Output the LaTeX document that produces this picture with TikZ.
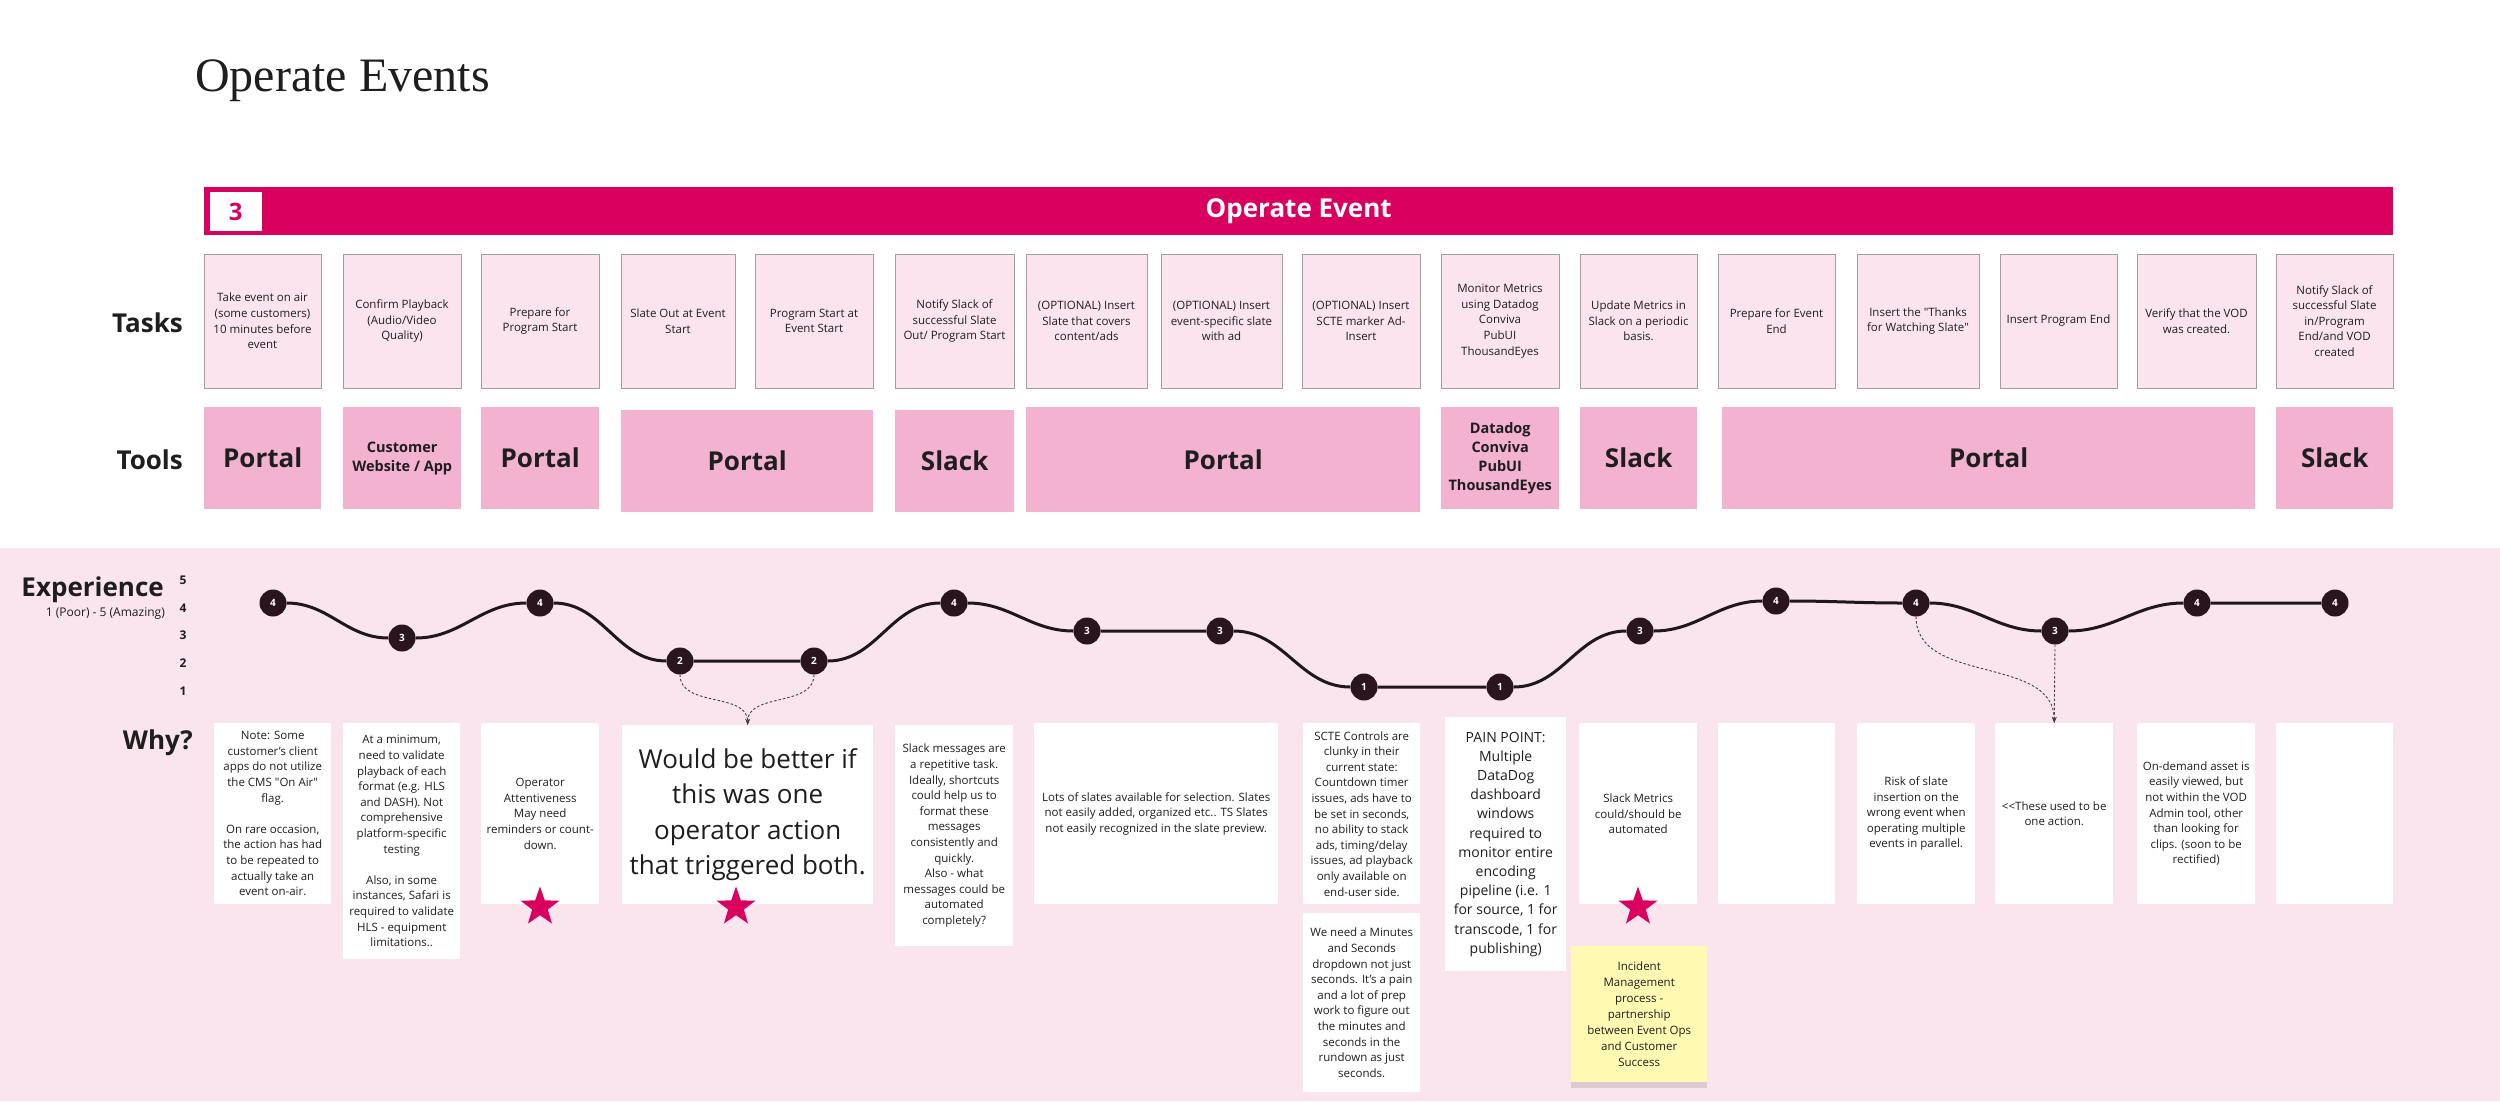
\documentclass[tikz,border=0pt]{standalone}
\usepackage{fontspec}
\setmainfont{Open Sans}
\newfontfamily\titlefont{Liberation Serif}
\usetikzlibrary{arrows.meta, positioning, shapes.geometric, shadows}

\definecolor{barpink}{RGB}{218,0,96}
\definecolor{taskfill}{RGB}{251,228,238}
\definecolor{taskline}{RGB}{170,155,163}
\definecolor{toolfill}{RGB}{242,178,208}
\definecolor{bgpink}{RGB}{250,228,238}
\definecolor{dotfill}{RGB}{42,20,30}
\definecolor{curveline}{RGB}{30,24,28}
\definecolor{notefill}{RGB}{255,249,178}
\definecolor{hintline}{RGB}{70,60,66}
\definecolor{inkgray}{RGB}{30,30,30}

\begin{document}
\begin{tikzpicture}[
  x=1pt, y=-1pt,
  task/.style={draw=taskline, fill=taskfill, line width=0.8pt, minimum height=134pt,
    inner sep=1pt, outer sep=0pt, align=center, text=inkgray, font=\fontsize{11.5}{15.6}\selectfont},
  tool/.style={fill=toolfill, anchor=north west, inner sep=0pt, align=center, text=inkgray,
    minimum height=102pt, font=\bfseries\fontsize{26}{30}\selectfont},
  toolsmall/.style={tool, font=\bfseries\fontsize{14.5}{19.3}\selectfont},
  why/.style={fill=white, anchor=north west, inner sep=0pt, align=center, text=inkgray,
    font=\fontsize{11.5}{15.6}\selectfont},
  sticky/.style={why, fill=notefill, drop shadow={shadow xshift=0pt, shadow yshift=-6pt, opacity=0.25}},
  rowlabel/.style={anchor=base east, inner sep=0pt, text=inkgray, font=\bfseries\fontsize{26}{30}\selectfont},
  level/.style={inner sep=0pt, text=inkgray, font=\bfseries\fontsize{12}{12}\selectfont},
  rate/.style={circle, fill=dotfill, text=white, minimum size=27pt, inner sep=0pt,
    font=\bfseries\fontsize{10}{10}\selectfont},
  journey/.style={draw=curveline, line width=3pt, out=0, in=180},
  hint/.style={draw=hintline, line width=0.9pt, dash pattern=on 2.5pt off 2pt,
    -{Stealth[length=6pt, width=4.5pt]}},
  hilite/.style={star, star points=5, star point ratio=2.5, fill=barpink, minimum size=41pt, inner sep=0pt}
]
\useasboundingbox (0,0) rectangle (2500,1101);
\fill[white] (0,0) rectangle (2500,1101);
\fill[bgpink] (0,548) rectangle (2500,1101);

% title and phase bar
\node[anchor=base west, inner sep=0pt, text=inkgray, font=\titlefont\fontsize{48}{48}\selectfont] (title) at (195,91) {Operate Events};
\node[fill=barpink, anchor=north west, minimum width=2189pt, minimum height=48pt, inner sep=0pt,
  text=white, font=\bfseries\fontsize{26}{30}\selectfont] (bar) at (204,187) {Operate Event};
\node[fill=white, anchor=north west, minimum width=52pt, minimum height=39pt, inner sep=0pt,
  text=barpink, font=\bfseries\fontsize{24}{24}\selectfont] (num) at (209.5,192) {3};

% row labels
\node[rowlabel] (tasks) at (183,332) {Tasks};
\node[rowlabel] (tools) at (183,469) {Tools};
\node[rowlabel] (exp) at (164,596) {Experience};
\node[anchor=base east, inner sep=0pt, text=inkgray, font=\fontsize{12}{12}\selectfont] (scale) at (165,616) {1 (Poor) - 5 (Amazing)};
\node[rowlabel] (why) at (193,749) {Why?};
\node[level] (l5) at (183,580) {5};
\node[level] (l4) at (183,608) {4};
\node[level] (l3) at (183,635) {3};
\node[level] (l2) at (183,663) {2};
\node[level] (l1) at (183,691) {1};

% tasks
\node[task, minimum width=117pt, anchor=north west] (t1) at (204,254) {Take event on air\\(some customers)\\10 minutes before\\event};
\node[task, minimum width=118pt, right=22pt of t1] (t2) {Confirm Playback\\(Audio/Video\\Quality)};
\node[task, minimum width=118pt, right=20pt of t2] (t3) {Prepare for\\Program Start};
\node[task, minimum width=114pt, right=22pt of t3] (t4) {Slate Out at Event\\Start};
\node[task, minimum width=118pt, right=20pt of t4] (t5) {Program Start at\\Event Start};
\node[task, minimum width=119pt, right=22pt of t5] (t6) {Notify Slack of\\successful Slate\\Out/ Program Start};
\node[task, minimum width=121pt, right=12pt of t6] (t7) {(OPTIONAL) Insert\\Slate that covers\\content/ads};
\node[task, minimum width=121pt, right=14pt of t7] (t8) {(OPTIONAL) Insert\\event-specific slate\\with ad};
\node[task, minimum width=118pt, right=20pt of t8] (t9) {(OPTIONAL) Insert\\SCTE marker Ad-\\Insert};
\node[task, minimum width=118pt, right=21pt of t9] (t10) {Monitor Metrics\\using Datadog\\Conviva\\PubUI\\ThousandEyes};
\node[task, minimum width=117pt, right=21pt of t10] (t11) {Update Metrics in\\Slack on a periodic\\basis.};
\node[task, minimum width=117pt, right=21pt of t11] (t12) {Prepare for Event\\End};
\node[task, minimum width=122pt, right=22pt of t12] (t13) {Insert the \textquotedbl Thanks\\for Watching Slate\textquotedbl};
\node[task, minimum width=117pt, right=21pt of t13] (t14) {Insert Program End};
\node[task, minimum width=119pt, right=20pt of t14] (t15) {Verify that the VOD\\was created.};
\node[task, minimum width=117pt, right=20pt of t15] (t16) {Notify Slack of\\successful Slate\\in/Program\\End/and VOD\\created};

% tools
\node[tool, minimum width=117pt] (portal1) at (204,407) {Portal};
\node[toolsmall, minimum width=118pt] (website) at (343,407) {Customer\\Website / App};
\node[tool, minimum width=118pt] (portal2) at (481,407) {Portal};
\node[tool, minimum width=252pt] (portal3) at (621,410) {Portal};
\node[tool, minimum width=119pt] (slack1) at (895,410) {Slack};
\node[tool, minimum width=394pt, minimum height=105pt] (portal4) at (1026,407) {Portal};
\node[toolsmall, minimum width=118pt] (datadog) at (1441,407) {Datadog\\Conviva\\PubUI\\ThousandEyes};
\node[tool, minimum width=117pt] (slack2) at (1580,407) {Slack};
\node[tool, minimum width=533pt] (portal5) at (1722,407) {Portal};
\node[tool, minimum width=117pt] (slack3) at (2276,407) {Slack};

% experience curve
\node[rate] (e1) at (273,603) {4};
\node[rate] (e2) at (402,638) {3};
\node[rate] (e3) at (540,603) {4};
\node[rate] (e4) at (680,661) {2};
\node[rate] (e5) at (814,661) {2};
\node[rate] (e6) at (954,603) {4};
\node[rate] (e7) at (1087,631) {3};
\node[rate] (e8) at (1220,631) {3};
\node[rate] (e9) at (1364,687) {1};
\node[rate] (e10) at (1500,687) {1};
\node[rate] (e11) at (1640,631) {3};
\node[rate] (e12) at (1776,601) {4};
\node[rate] (e13) at (1916,603) {4};
\node[rate] (e14) at (2055,631) {3};
\node[rate] (e15) at (2197,603) {4};
\node[rate] (e16) at (2335,603) {4};

\draw[journey] (e1) to (e2) to (e3) to (e4) to (e5) to (e6) to (e7) to (e8)
  to (e9) to (e10) to (e11) to (e12) to (e13) to (e14) to (e15) to (e16);

% why
\node[why, minimum width=117pt, minimum height=181pt] (w1) at (214,723) {Note: Some\\customer's client\\apps do not utilize\\the CMS \textquotedbl On Air\textquotedbl\\flag.\\[15.6pt]On rare occasion,\\the action has had\\to be repeated to\\actually take an\\event on-air.};
\node[why, minimum width=117pt, minimum height=236pt] (w2) at (343,723) {At a minimum,\\need to validate\\playback of each\\format (e.g. HLS\\and DASH). Not\\comprehensive\\platform-specific\\testing\\[15.6pt]Also, in some\\instances, Safari is\\required to validate\\HLS - equipment\\limitations..};
\node[why, minimum width=118pt, minimum height=181pt] (w3) at (481,723) {Operator\\Attentiveness\\May need\\reminders or count-\\down.};
\node[why, minimum width=251pt, minimum height=179pt, font=\fontsize{26}{35.5}\selectfont] (w4) at (622,725) {Would be better if\\this was one\\operator action\\that triggered both.};
\node[why, minimum width=118pt, minimum height=221pt] (w5) at (895,725) {Slack messages are\\a repetitive task.\\Ideally, shortcuts\\could help us to\\format these\\messages\\consistently and\\quickly.\\Also - what\\messages could be\\automated\\completely?};
\node[why, minimum width=244pt, minimum height=181pt] (w6) at (1034,723) {Lots of slates available for selection. Slates\\not easily added, organized etc.. TS Slates\\not easily recognized in the slate preview.};
\node[why, minimum width=117pt, minimum height=181pt] (w7) at (1303,723) {SCTE Controls are\\clunky in their\\current state:\\Countdown timer\\issues, ads have to\\be set in seconds,\\no ability to stack\\ads, timing/delay\\issues, ad playback\\only available on\\end-user side.};
\node[why, minimum width=117pt, minimum height=179pt] (w7b) at (1303,913) {We need a Minutes\\and Seconds\\dropdown not just\\seconds. It's a pain\\and a lot of prep\\work to figure out\\the minutes and\\seconds in the\\rundown as just\\seconds.};
\node[why, minimum width=121pt, minimum height=254pt, font=\fontsize{14}{19.2}\selectfont] (w8) at (1445,717) {PAIN POINT:\\Multiple\\DataDog\\dashboard\\windows\\required to\\monitor entire\\encoding\\pipeline (i.e. 1\\for source, 1 for\\transcode, 1 for\\publishing)};
\node[why, minimum width=118pt, minimum height=181pt] (w9) at (1579,723) {Slack Metrics\\could/should be\\automated};
\node[why, minimum width=117pt, minimum height=181pt] (w10) at (1718,723) {};
\node[why, minimum width=118pt, minimum height=181pt] (w11) at (1857,723) {Risk of slate\\insertion on the\\wrong event when\\operating multiple\\events in parallel.};
\node[why, minimum width=118pt, minimum height=181pt] (w12) at (1995,723) {<\kern0pt<These used to be\\one action.};
\node[why, minimum width=118pt, minimum height=181pt] (w13) at (2137,723) {On-demand asset is\\easily viewed, but\\not within the VOD\\Admin tool, other\\than looking for\\clips. (soon to be\\rectified)};
\node[why, minimum width=117pt, minimum height=181pt] (w14) at (2276,723) {};
\node[sticky, minimum width=136pt, minimum height=136pt, font=\fontsize{11.5}{16}\selectfont] (note) at (1571,946) {Incident\\Management\\process -\\partnership\\between Event Ops\\and Customer\\Success};

\node[hilite] (star1) at (540,907) {};
\node[hilite] (star2) at (736,907) {};
\node[hilite] (star3) at (1638,907) {};

\draw[hint] (e4.south) to[out=-90, in=90] (w4.north);
\draw[hint] (e5.south) to[out=-90, in=90] (w4.north);
\draw[hint] (e13.south) to[out=-90, in=90] (w12.north);
\draw[hint] (e14.south) -- (w12.north);
\end{tikzpicture}
\end{document}
